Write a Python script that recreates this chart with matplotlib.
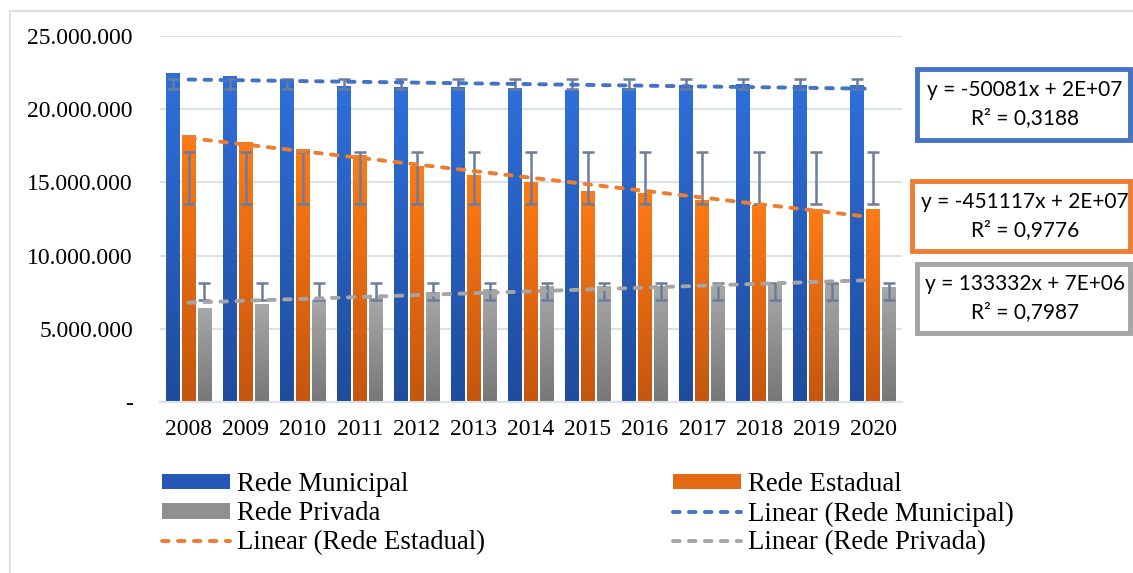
import numpy as np
import matplotlib.pyplot as plt
from matplotlib.patches import Rectangle, Patch
from matplotlib.lines import Line2D
from matplotlib.colors import LinearSegmentedColormap
from matplotlib.ticker import FuncFormatter

plt.rcParams['font.family'] = ['Liberation Serif', 'DejaVu Serif']

anos = ['2008', '2009', '2010', '2011', '2012', '2013', '2014',
        '2015', '2016', '2017', '2018', '2019', '2020']
municipal = [22.44, 22.30, 22.07, 21.57, 21.50, 21.50, 21.44,
             21.30, 21.46, 21.64, 21.73, 21.64, 21.64]
estadual = [18.24, 17.76, 17.28, 16.87, 16.12, 15.50, 15.03,
            14.43, 14.29, 13.80, 13.47, 13.20, 13.20]
privada = [6.45, 6.68, 7.00, 7.08, 7.54, 7.72, 7.95,
           7.95, 7.95, 7.95, 8.02, 8.10, 7.88]
municipal = [v * 1e6 for v in municipal]
estadual = [v * 1e6 for v in estadual]
privada = [v * 1e6 for v in privada]

nomes = ['Rede Municipal', 'Rede Estadual', 'Rede Privada']
equacoes = ['y = -50081x + 2E+07\nR² = 0,3188',
            'y = -451117x + 2E+07\nR² = 0,9776',
            'y = 133332x + 7E+06\nR² = 0,7987']

grad = [('#2F6FDA', '#1F4C9C'), ('#FF7B15', '#C4560F'), ('#A8A8A8', '#777777')]
trend_cor = ['#4472C4', '#ED7D31', '#A5A5A5']
erro_cor = '#6A7E9C'
tracejado = (0, (1.7, 2.4))

fig = plt.figure(figsize=(11.33, 5.73), dpi=100)
ax = fig.add_axes([0.1412, 0.2984, 0.796 - 0.1412, 0.9372 - 0.2984])

# moldura do grafico
fig.patches.append(Rectangle((10 / 1133, -0.05), 1.2, 1 - 11 / 573 + 0.05,
                             transform=fig.transFigure, fill=False,
                             edgecolor='#DCE1E8', lw=1.5))

x = np.arange(len(anos))
w = 0.245
desloc = [-0.28, 0.0, 0.28]
series = [municipal, estadual, privada]

grad_img = np.linspace(0, 1, 256).reshape(-1, 1)
for k, serie in enumerate(series):
    cmap = LinearSegmentedColormap.from_list('g%d' % k, [grad[k][1], grad[k][0]])
    bars = ax.bar(x + desloc[k], serie, w, color='none', zorder=2)
    for r in bars:
        x0, y0 = r.get_x(), r.get_y()
        im = ax.imshow(grad_img, cmap=cmap, aspect='auto', origin='lower',
                       extent=[x0, x0 + r.get_width(), y0, y0 + r.get_height()],
                       zorder=2)
        im.set_clip_path(r)
    # barras de erro (desvio padrao, centradas na media)
    media = np.mean(serie)
    dp = np.std(serie, ddof=1)
    ax.errorbar(x + desloc[k], [media] * len(x), yerr=dp, fmt='none',
                ecolor=erro_cor, elinewidth=1.8, capsize=4.2, capthick=1.8, zorder=3)

for k, serie in enumerate(series):
    a, b = np.polyfit(x, serie, 1)
    ax.plot(x, a * x + b, color=trend_cor[k], lw=2.8, ls=tracejado,
            dash_capstyle='round', zorder=4)

ax.set_xlim(-0.5, 12.5)
ax.set_ylim(0, 25e6)
ax.set_xticks(x)
ax.set_xticklabels(anos, fontsize=17)
ax.set_yticks(np.arange(0, 25e6 + 1, 5e6))
ax.yaxis.set_major_formatter(FuncFormatter(
    lambda v, p: '-' if v == 0 else f'{int(v):,}'.replace(',', '.')))
ax.tick_params(axis='y', labelsize=17, length=0, pad=19.5)
ax.tick_params(axis='x', length=0, pad=12)
ax.grid(axis='y', color='#DDE2E8', lw=1.5, zorder=0)
ax.set_axisbelow(True)
for s in ['top', 'right', 'left']:
    ax.spines[s].set_visible(False)
ax.spines['bottom'].set_color('#DDE2E8')
ax.spines['bottom'].set_linewidth(1.5)

# caixas das equacoes
caixas = [(917, 69, 140), (912, 181, 251), (917, 264, 333)]
for k, (bx, by0, by1) in enumerate(caixas):
    fig.patches.append(Rectangle((bx / 1133, 1 - by1 / 573), (1130 - bx) / 1133,
                                 (by1 - by0) / 573, transform=fig.transFigure,
                                 facecolor='white', edgecolor=trend_cor[k], lw=3.5))
    fig.text(1025 / 1133, 1 - (by0 + by1) / 2 / 573, equacoes[k], ha='center',
             va='center', fontsize=15, family=['Lato', 'DejaVu Sans'],
             linespacing=1.5)

# legenda
hb = [Patch(facecolor='#2658B8'), Patch(facecolor='#E36A12'), Patch(facecolor='#909090')]
hl = [Line2D([], [], color=trend_cor[k], lw=2.8, ls=tracejado,
             dash_capstyle='round') for k in range(3)]
col1 = [(hb[0], nomes[0]), (hb[2], nomes[2]), (hl[1], 'Linear (Rede Estadual)')]
col2 = [(hb[1], nomes[1]), (hl[0], 'Linear (Rede Municipal)'), (hl[2], 'Linear (Rede Privada)')]
for col, xl in [(col1, 157), (col2, 668)]:
    leg = fig.legend([h for h, _ in col], [t for _, t in col],
                     loc='upper left', bbox_to_anchor=(xl / 1133, 1 - 467 / 573),
                     frameon=False, fontsize=19.3, handlelength=2.54,
                     handleheight=0.5, handletextpad=0.25, labelspacing=0.15,
                     borderaxespad=0, borderpad=0.2)
    for p in leg.get_patches():
        p.set_edgecolor('none')

fig.savefig('out.png', dpi=100)
